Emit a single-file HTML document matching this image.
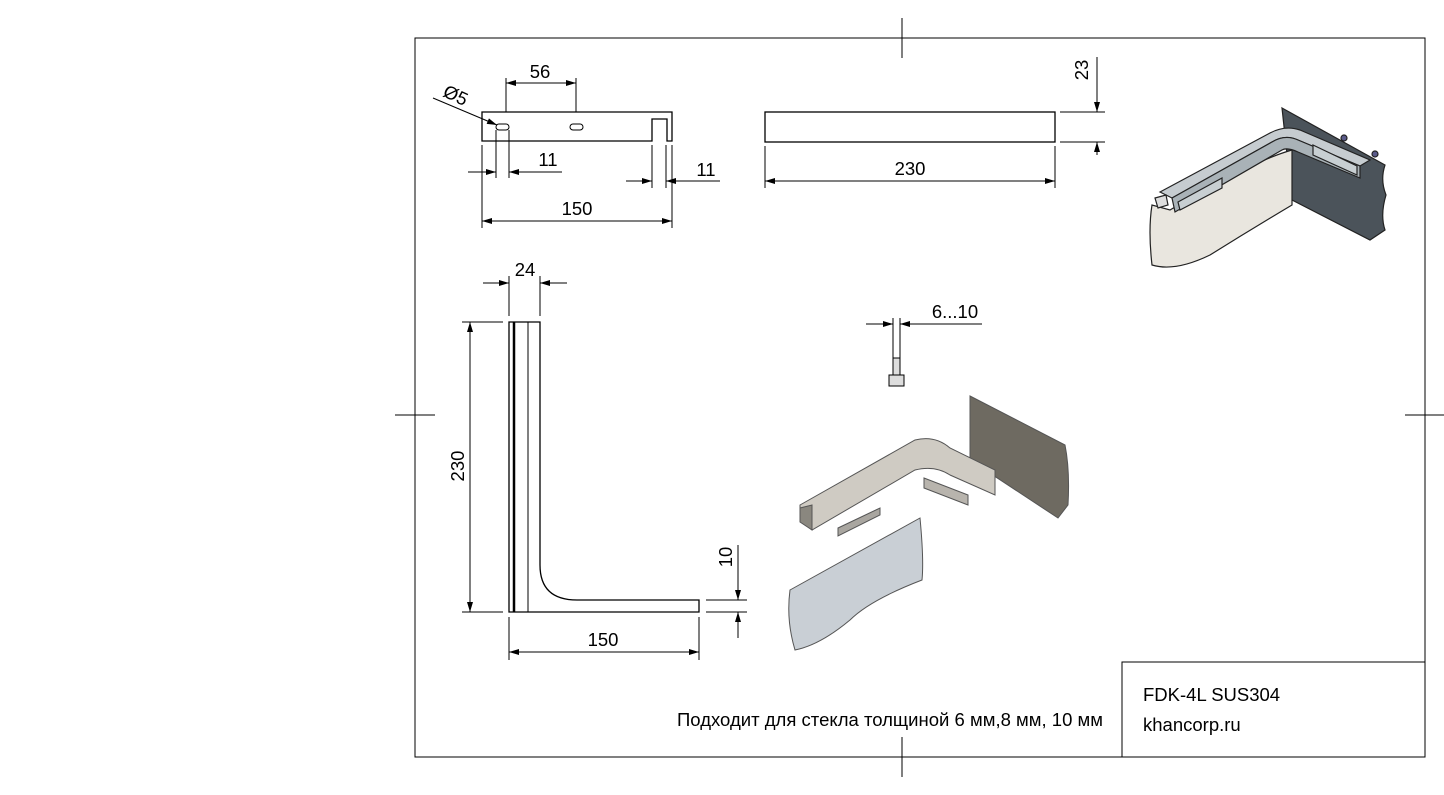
<!DOCTYPE html>
<html><head><meta charset="utf-8"><style>
html,body{margin:0;padding:0;background:#fff;}
svg{display:block;font-family:"Liberation Sans",Arial,sans-serif;}
</style></head><body>
<svg width="1444" height="795" viewBox="0 0 1444 795" xmlns="http://www.w3.org/2000/svg">
<defs>
<marker id="a" viewBox="0 0 10 6" refX="10" refY="3" markerWidth="12" markerHeight="6" orient="auto-start-reverse" markerUnits="userSpaceOnUse"><path d="M0,0L10,3L0,6z" fill="#000"/></marker>
</defs>
<g stroke="#000" fill="none" stroke-width="1">
<rect x="415" y="38" width="1010" height="719"/>
<line x1="902" y1="18" x2="902" y2="58"/><line x1="902" y1="737" x2="902" y2="777"/>
<line x1="395" y1="415" x2="435" y2="415"/><line x1="1405" y1="415" x2="1444" y2="415"/>
<rect x="1122" y="662" width="303" height="95"/>

<path d="M482,112H672V141H667V119H652V141H482Z" stroke-width="1.3"/>
<rect x="496" y="124" width="13" height="6" rx="3"/>
<rect x="570" y="124" width="13" height="6" rx="3"/>
<line x1="506" y1="78" x2="506" y2="112"/><line x1="576" y1="78" x2="576" y2="112"/>
<line x1="506" y1="83" x2="576" y2="83" marker-start="url(#a)" marker-end="url(#a)"/>
<line x1="433" y1="98" x2="497" y2="125" marker-end="url(#a)"/>
<line x1="482" y1="145" x2="482" y2="228"/><line x1="496" y1="130" x2="496" y2="178"/><line x1="509" y1="130" x2="509" y2="178"/>
<line x1="468" y1="172" x2="496" y2="172" marker-end="url(#a)"/><line x1="562" y1="172" x2="509" y2="172" marker-end="url(#a)"/>
<line x1="652" y1="145" x2="652" y2="188"/><line x1="666" y1="145" x2="666" y2="188"/><line x1="672" y1="145" x2="672" y2="228"/>
<line x1="626" y1="181" x2="652" y2="181" marker-end="url(#a)"/><line x1="720" y1="181" x2="666" y2="181" marker-end="url(#a)"/>
<line x1="482" y1="221" x2="672" y2="221" marker-start="url(#a)" marker-end="url(#a)"/>

<rect x="765" y="112" width="290" height="30" stroke-width="1.3"/>
<line x1="765" y1="146" x2="765" y2="188"/><line x1="1055" y1="146" x2="1055" y2="188"/>
<line x1="765" y1="181" x2="1055" y2="181" marker-start="url(#a)" marker-end="url(#a)"/>
<line x1="1060" y1="112" x2="1105" y2="112"/><line x1="1060" y1="142" x2="1105" y2="142"/>
<line x1="1097" y1="57" x2="1097" y2="112" marker-end="url(#a)"/><line x1="1097" y1="155" x2="1097" y2="142" marker-end="url(#a)"/>

<path d="M509,322H540V565Q540,600 577,600H699V612H509Z" stroke-width="1.3"/>
<line x1="514" y1="322" x2="514" y2="612" stroke-width="2.5"/>
<line x1="528" y1="322" x2="528" y2="612"/>
<line x1="509" y1="276" x2="509" y2="316"/><line x1="540" y1="276" x2="540" y2="316"/>
<line x1="483" y1="283" x2="509" y2="283" marker-end="url(#a)"/><line x1="567" y1="283" x2="540" y2="283" marker-end="url(#a)"/>
<line x1="462" y1="322" x2="503" y2="322"/><line x1="462" y1="612" x2="503" y2="612"/>
<line x1="470" y1="322" x2="470" y2="612" marker-start="url(#a)" marker-end="url(#a)"/>
<line x1="509" y1="617" x2="509" y2="660"/><line x1="699" y1="617" x2="699" y2="660"/>
<line x1="509" y1="652" x2="699" y2="652" marker-start="url(#a)" marker-end="url(#a)"/>
<line x1="706" y1="600" x2="747" y2="600"/><line x1="706" y1="612" x2="747" y2="612"/>
<line x1="738" y1="545" x2="738" y2="600" marker-end="url(#a)"/><line x1="738" y1="638" x2="738" y2="612" marker-end="url(#a)"/>

<line x1="893" y1="318" x2="893" y2="362"/><line x1="900" y1="318" x2="900" y2="362"/>
<line x1="866" y1="324" x2="893" y2="324" marker-end="url(#a)"/><line x1="982" y1="324" x2="900" y2="324" marker-end="url(#a)"/>
<rect x="893" y="358" width="7" height="28" fill="#ddd"/>
<rect x="889" y="375" width="15" height="11" fill="#ddd"/>
</g>

<g stroke="#222" stroke-width="1.2">
<path d="M1282,108L1385,165Q1380,180 1386,195Q1380,215 1385,230L1370,240L1292,200Z" fill="#4b535a"/>
<path d="M1152,205Q1148,230 1152,265Q1175,272 1210,255Q1250,230 1292,205L1292,150Q1250,162 1170,210Z" fill="#e9e6df"/>
<path d="M1160,192L1270,133Q1285,125 1300,130L1370,160L1360,166L1298,140Q1285,134 1272,142L1172,198Z" fill="#c6ccd0"/>
<path d="M1172,198L1272,142Q1285,134 1298,140L1360,166V178L1298,152Q1287,147 1282,150L1175,212Z" fill="#a9b2b7"/>
<path d="M1178,202L1222,178V188L1180,210Z" fill="#c8cfd2"/>
<path d="M1313,145L1357,166V175L1313,155Z" fill="#c8cfd2"/>
<path d="M1155,198L1166,195L1168,205L1158,208Z" fill="#ddd"/>
<circle cx="1344" cy="138" r="3" fill="#5a5a8a"/><circle cx="1375" cy="154" r="3" fill="#5a5a8a"/>
</g>

<g stroke="#555" stroke-width="1">
<path d="M970,396L1065,445Q1070,470 1068,505L1058,518L970,460Z" fill="#6e6a61"/>
<path d="M800,505L915,440Q935,435 950,448L995,470V495L950,475Q935,465 915,470L812,530L800,520Z" fill="#cfcbc3"/>
<path d="M800,508L812,505L812,530L800,522Z" fill="#8a877f"/>
<path d="M838,528L880,508V515L838,536Z" fill="#a9a6a0"/>
<path d="M924,478L968,495V505L924,488Z" fill="#b8b4ad"/>
<path d="M790,590L920,518Q924,560 922,580Q870,600 850,620Q820,645 795,650Q786,620 790,590Z" fill="#c9cfd5"/>
</g>

<g font-size="18.5" fill="#000">
<text x="540" y="78" text-anchor="middle">56</text>
<text x="453" y="101" transform="rotate(25 453 101)" text-anchor="middle">Ø5</text>
<text x="548" y="166" text-anchor="middle">11</text>
<text x="706" y="176" text-anchor="middle">11</text>
<text x="577" y="215" text-anchor="middle">150</text>
<text x="910" y="175" text-anchor="middle">230</text>
<text x="1088" y="70" transform="rotate(-90 1088 70)" text-anchor="middle">23</text>
<text x="525" y="276" text-anchor="middle">24</text>
<text x="464" y="466" transform="rotate(-90 464 466)" text-anchor="middle">230</text>
<text x="603" y="646" text-anchor="middle">150</text>
<text x="732" y="557" transform="rotate(-90 732 557)" text-anchor="middle">10</text>
<text x="955" y="318" text-anchor="middle">6...10</text>
<text x="677" y="726" textLength="426">Подходит для стекла толщиной 6 мм,8 мм, 10 мм</text>
<text x="1143" y="701">FDK-4L SUS304</text>
<text x="1143" y="731">khancorp.ru</text>
</g>
</svg>
</body></html>
